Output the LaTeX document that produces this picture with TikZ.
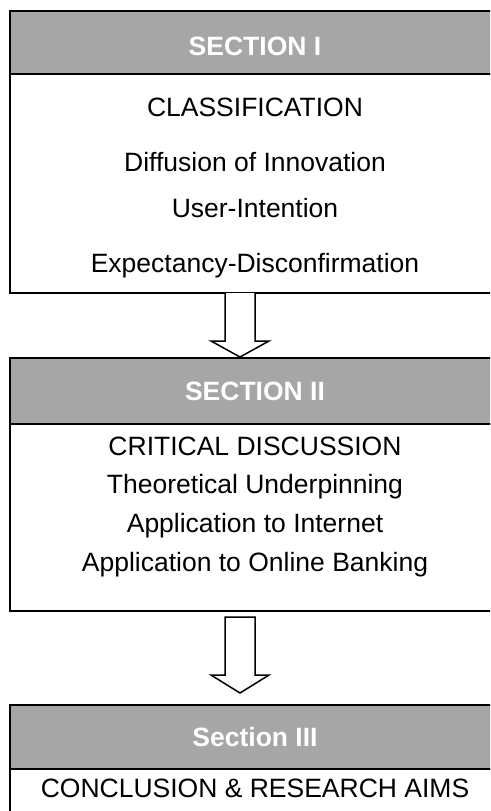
\documentclass[tikz,border=0pt]{standalone}
\usepackage{fontspec}
\setmainfont{Liberation Sans}
\usetikzlibrary{calc}
\definecolor{headgray}{HTML}{A6A6A6}
\tikzset{
  frame/.style={draw=black, line width=2pt},
  headbox/.style={frame, fill=headgray},
  headtext/.style={text=white, font=\fontsize{26.5}{30}\bfseries\selectfont, inner sep=0pt, text height=19pt, text depth=0pt},
  item/.style={text=black, font=\fontsize{26.5}{30}\selectfont, inner sep=0pt, text height=19pt, text depth=0pt},
  blockarrow/.style={draw=black, line width=1.5pt, fill=white, line join=miter}
}
\begin{document}
\begin{tikzpicture}[x=1pt, y=-1pt]
\useasboundingbox (0,0) rectangle (490,811);
\path[clip] (0,0) rectangle (490,811);

% Section I
\draw[headbox] (10,11) rectangle (502,74);
\draw[frame] (10,74) rectangle (502,293);
\node[headtext] (s1) at (255,46) {SECTION I};
\node[item] (s1a) at (255,107) {CLASSIFICATION};
\node[item] (s1b) at (255,162) {Diffusion of Innovation};
\node[item] (s1c) at (255,208) {User-Intention};
\node[item] (s1d) at (255,263) {Expectancy-Disconfirmation};

% Section II
\draw[headbox] (10,358) rectangle (502,424);
\draw[frame] (10,424) rectangle (502,611);
\node[headtext] (s2) at (255,391) {SECTION II};
\node[item] (s2a) at (255,446) {CRITICAL DISCUSSION};
\node[item] (s2b) at (255,484) {Theoretical Underpinning};
\node[item] (s2c) at (255,523) {Application to Internet};
\node[item] (s2d) at (255,562) {Application to Online Banking};

% Section III
\draw[headbox] (10,705) rectangle (502,769);
\draw[frame] (10,769) rectangle (502,840);
\node[headtext] (s3) at (255,737) {Section III};
\node[item] (s3a) at (255,788) {CONCLUSION \& RESEARCH AIMS};

% block arrows between the sections
\coordinate (a1) at (240,293);
\coordinate (t1) at (240,357);
\coordinate (a2) at (240,617);
\coordinate (t2) at (240,693);
\draw[blockarrow] ($(a1)+(-15,0)$) -- ($(t1)+(-15,-16)$) -- ($(t1)+(-29,-16)$) -- (t1)
  -- ($(t1)+(29,-16)$) -- ($(t1)+(15,-16)$) -- ($(a1)+(15,0)$);
\draw[blockarrow] ($(a2)+(-15,0)$) -- ($(t2)+(-15,-18)$) -- ($(t2)+(-29,-18)$) -- (t2)
  -- ($(t2)+(29,-18)$) -- ($(t2)+(15,-18)$) -- ($(a2)+(15,0)$) -- cycle;
\end{tikzpicture}
\end{document}
